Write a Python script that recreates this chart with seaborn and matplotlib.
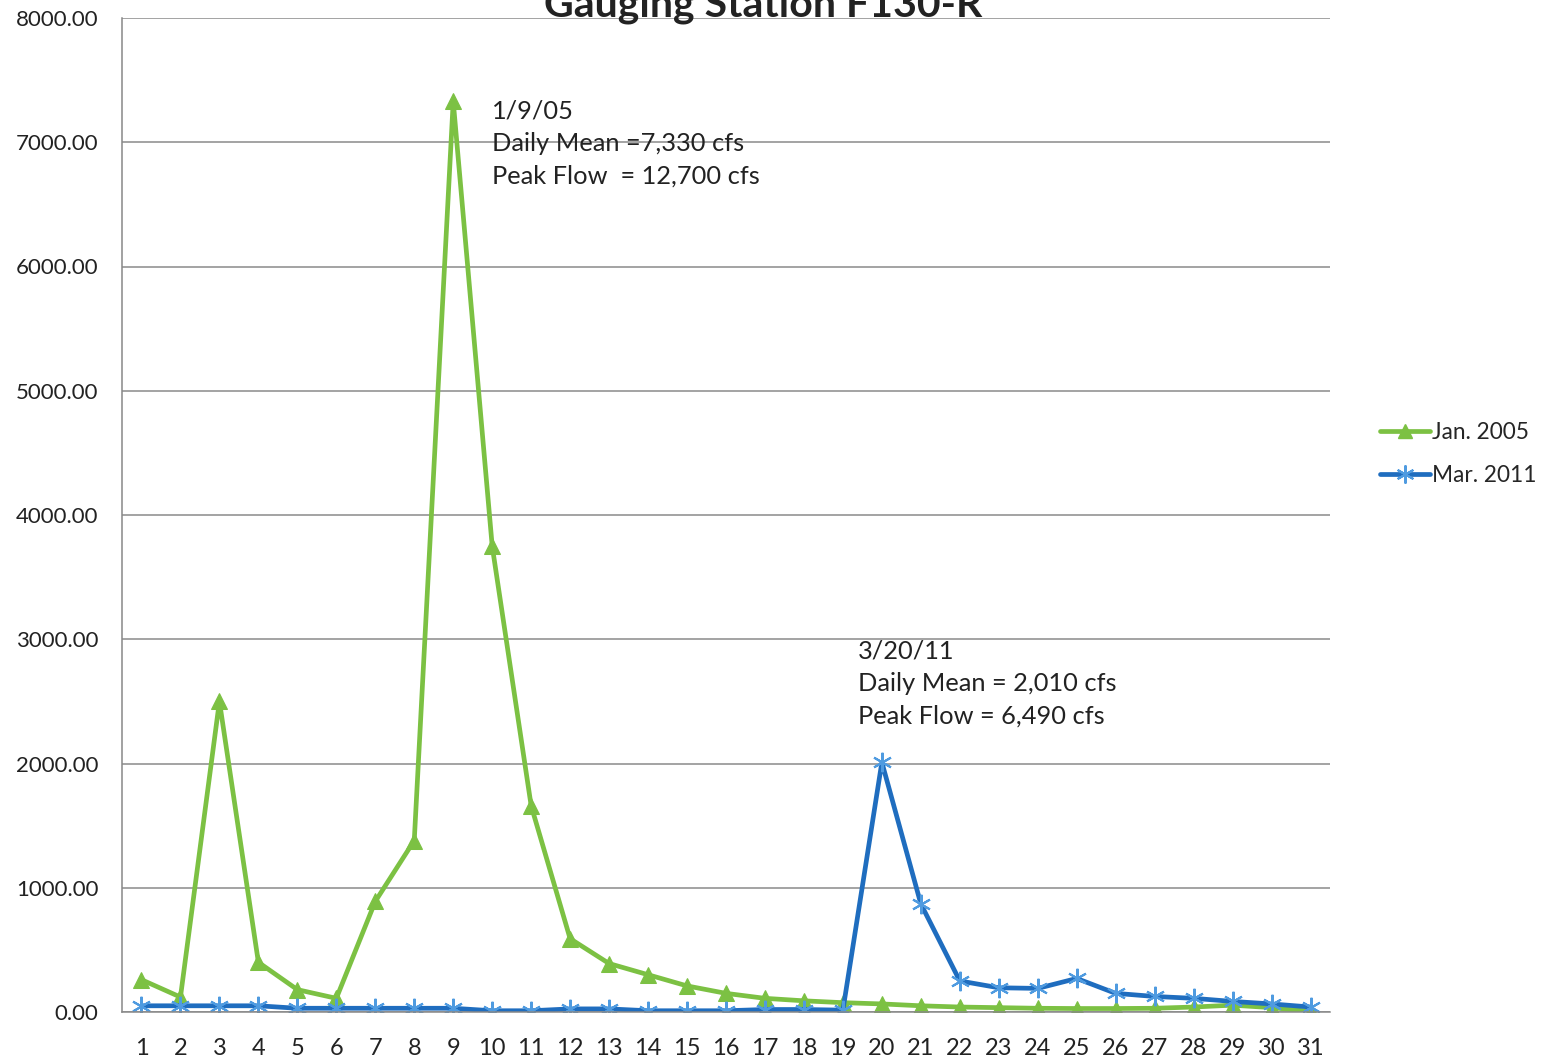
import numpy as np
import pandas as pd
import matplotlib
matplotlib.use("Agg")
import matplotlib.pyplot as plt
import seaborn as sns
from matplotlib.lines import Line2D

days = list(range(1, 32))
jan_2005 = [260, 120, 2500, 400, 180, 110, 890, 1380, 7330, 3750, 1660, 590, 390, 300,
            210, 150, 110, 90, 75, 65, 50, 40, 35, 30, 28, 28, 30, 40, 55, 35, 5]
mar_2011 = [50, 50, 50, 50, 30, 30, 30, 30, 30, 10, 10, 25, 25, 10, 10, 10, 20, 20, 15,
            2010, 870, 250, 195, 190, 270, 150, 125, 110, 85, 65, 40]
series_names = ["Jan. 2005", "Mar. 2011"]
y_ticks = [0, 1000, 2000, 3000, 4000, 5000, 6000, 7000, 8000]
title = "Gauging Station F130-R"
note1 = "1/9/05\nDaily Mean =7,330 cfs\nPeak Flow  = 12,700 cfs"
note2 = "3/20/11\nDaily Mean = 2,010 cfs\nPeak Flow = 6,490 cfs"

sns.set_theme(style="white")
plt.rcParams["font.family"] = ["Lato", "DejaVu Sans"]

green = "#7CC143"
blue = "#1F6DBF"
blue_mk = "#4F9BE0"

fig = plt.figure(figsize=(15.48, 10.60), dpi=100)
ax = fig.add_axes([122 / 1548, 1 - 1012 / 1060, (1330 - 122) / 1548, (1012 - 18) / 1060])

sns.lineplot(x=days, y=jan_2005, color=green, linewidth=3.4, marker="^",
             markersize=11, markerfacecolor=green, markeredgecolor=green, ax=ax)
sns.lineplot(x=days, y=mar_2011, color=blue, linewidth=3.4, marker=(6, 2, 0),
             markersize=14, markeredgecolor=blue_mk, markeredgewidth=1.5, ax=ax)

ax.set_xlim(0.5, 31.5)
ax.set_ylim(0, 8000)
ax.set_yticks(y_ticks)
ax.set_yticklabels([f"{v:.2f}" for v in y_ticks], fontsize=16, color="#222222")
ax.set_xticks(days)
ax.set_xticklabels([str(d) for d in days], fontsize=17, color="#222222")
ax.set_xticks(np.arange(0.5, 32, 1), minor=True)
ax.tick_params(axis="x", which="major", length=0, pad=19)
ax.tick_params(axis="x", which="minor", length=8, width=1, color="#777777", direction="out")
ax.tick_params(axis="y", length=0, pad=17)
ax.set_xlabel("")
ax.set_ylabel("")

ax.grid(axis="y", color="#8a8a8a", linewidth=1.1)
ax.set_axisbelow(True)
for s in ["top", "right"]:
    ax.spines[s].set_visible(False)
for s in ["left", "bottom"]:
    ax.spines[s].set_color("#888888")
    ax.spines[s].set_linewidth(1.1)

ax.text(9.99, 7345, note1, fontsize=18.3, color="#222222", va="top", ha="left",
        linespacing=1.5)
ax.text(19.38, 3000, note2, fontsize=18.3, color="#222222", va="top", ha="left",
        linespacing=1.5)

fig.text(763 / 1548, 1 - 17 / 1060, title, fontsize=29.5, fontweight="bold",
         color="#222222", ha="center", va="baseline")

handles = [
    Line2D([], [], color=green, lw=3.4, marker="^", markersize=10,
           markerfacecolor=green, markeredgecolor=green),
    Line2D([], [], color=blue, lw=3.4, marker=(6, 2, 0), markersize=13,
           markeredgecolor=blue_mk, markeredgewidth=1.5),
]
fig.legend(handles, series_names, loc="center left",
           bbox_to_anchor=(1360 / 1548, 1 - 454 / 1060), frameon=False,
           fontsize=16.3, handlelength=2.2, handletextpad=0.1, labelspacing=1.0)

fig.savefig("out.png", dpi=100)
